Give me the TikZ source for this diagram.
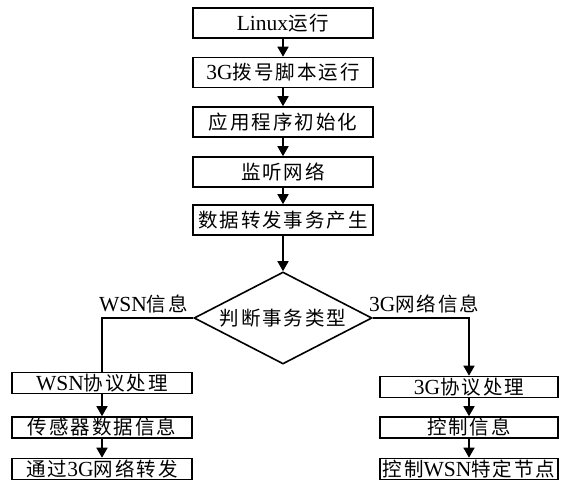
\documentclass[tikz,border=0pt]{standalone}
\usepackage{fontspec}
\setmainfont{Liberation Serif}
\newfontfamily\cjk[LetterSpace=10]{Noto Sans CJK SC}
\newcommand{\zhf}{\cjk\fontsize{19.5}{23}\selectfont}
\newcommand{\lat}[1]{{\rmfamily\fontsize{21.5}{25}\selectfont #1}}
\usetikzlibrary{shapes.geometric,arrows.meta}
\begin{document}
\begin{tikzpicture}[x=1pt,y=-1pt,
  box/.style={draw, line width=1.6pt, minimum width=180pt, minimum height=30pt, inner sep=0pt, font=\zhf},
  sbox/.style={box, minimum height=21pt},
  rbox/.style={sbox, minimum width=178pt},
  arr/.style={line width=1.6pt, -{Triangle[width=11pt,length=10pt]}},
  ln/.style={line width=1.6pt},
  lbl/.style={inner sep=0pt, font=\zhf}]
\useasboundingbox (0,0) rectangle (562,486);
\node[box] (a1) at (283,23) {\lat{Linux}运行};
\node[box] (a2) at (283,72.5) {\lat{3G}拨号脚本运行};
\node[box] (a3) at (283,122) {应用程序初始化};
\node[box] (a4) at (283,172) {监听网络};
\node[box] (a5) at (283,220) {数据转发事务产生};
\node[diamond, draw, line width=1.6pt, minimum width=178pt, minimum height=92pt, inner sep=0pt] (d) at (283,318) {};
\node[lbl] (dt) at (d.center) {判断事务类型};
\node[sbox] (l1) at (102,383) {\lat{WSN}协议处理};
\node[sbox] (l2) at (102,427.5) {传感器数据信息};
\node[sbox] (l3) at (102,469) {通过\lat{3G}网络转发};
\node[rbox] (r1) at (469,387) {\lat{3G}协议处理};
\node[rbox] (r2) at (469,427.5) {控制信息};
\node[rbox] (r3) at (469,469) {控制\lat{WSN}特定节点};
\node[lbl, anchor=base east] (lw) at (188,312) {\lat{WSN}信息};
\node[lbl, anchor=base west] (lg) at (369,311) {\lat{3G}网络信息};
\draw[arr] (a1) -- (a2);
\draw[arr] (a2) -- (a3);
\draw[arr] (a3) -- (a4);
\draw[arr] (a4) -- (a5);
\draw[arr] (a5) -- (d);
\draw[ln] (d.west) -| (l1.north);
\draw[arr] (d.east) -| (r1.north);
\draw[arr] (l1) -- (l2);
\draw[arr] (l2) -- (l3);
\draw[arr] (r1) -- (r2);
\draw[arr] (r2) -- (r3);
\end{tikzpicture}
\end{document}
